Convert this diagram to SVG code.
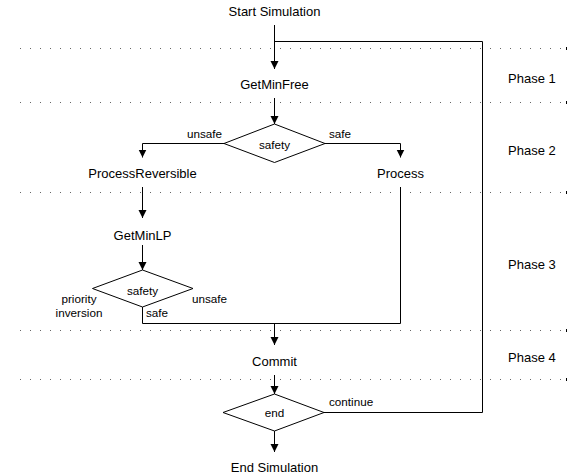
<svg xmlns="http://www.w3.org/2000/svg" width="570" height="476" viewBox="0 0 570 476">
<style>
text{font-family:"Liberation Sans",Arial,sans-serif;fill:#000}
.n{font-size:13px;text-anchor:middle}
.p{font-size:13px}
.l{font-size:11.7px}
.c{fill:none;stroke:#000;stroke-width:1}
.d{fill:#fff;stroke:#000;stroke-width:1}
.dot{stroke:#666;stroke-width:1;stroke-dasharray:1 9}
.tk{stroke:#000;stroke-width:1}
</style>
<defs>
<marker id="ah" markerWidth="8" markerHeight="10" refX="8" refY="5" orient="auto" markerUnits="userSpaceOnUse" viewBox="0 0 8 10">
<path d="M0,1 L8,5 L0,9 Z" fill="#000"/>
</marker>
</defs>
<g id="phases">
<line class="dot" x1="20" y1="48.5" x2="566" y2="48.5"/>
<line class="dot" x1="20" y1="102.5" x2="566" y2="102.5"/>
<line class="dot" x1="20" y1="192.5" x2="566" y2="192.5"/>
<line class="dot" x1="20" y1="330.5" x2="566" y2="330.5"/>
<line class="dot" x1="20" y1="379.5" x2="566" y2="379.5"/>
<line class="tk" x1="566.5" y1="47" x2="566.5" y2="50"/>
<line class="tk" x1="566.5" y1="101" x2="566.5" y2="104"/>
<line class="tk" x1="566.5" y1="191" x2="566.5" y2="194"/>
<line class="tk" x1="566.5" y1="329" x2="566.5" y2="332"/>
<line class="tk" x1="566.5" y1="378" x2="566.5" y2="381"/>
<text class="p" x="508" y="83">Phase 1</text>
<text class="p" x="508" y="155">Phase 2</text>
<text class="p" x="508" y="268.5">Phase 3</text>
<text class="p" x="508" y="361.5">Phase 4</text>
</g>
<g id="connectors">
<line class="c" x1="274.5" y1="25" x2="274.5" y2="69" marker-end="url(#ah)"/>
<polyline class="c" points="324,412.5 482.5,412.5 482.5,41.5 274.5,41.5"/>
<line class="c" x1="274.5" y1="98" x2="274.5" y2="124" marker-end="url(#ah)"/>
<polyline class="c" points="224,143.5 142.5,143.5 142.5,157.5" marker-end="url(#ah)"/>
<polyline class="c" points="325,143.5 400.5,143.5 400.5,157.5" marker-end="url(#ah)"/>
<line class="c" x1="142.5" y1="187" x2="142.5" y2="218" marker-end="url(#ah)"/>
<line class="c" x1="142.5" y1="245" x2="142.5" y2="270" marker-end="url(#ah)"/>
<polyline class="c" points="142.5,307 142.5,323.5 400.5,323.5 400.5,187"/>
<line class="c" x1="274.5" y1="323.5" x2="274.5" y2="345" marker-end="url(#ah)"/>
<line class="c" x1="274.5" y1="375" x2="274.5" y2="394" marker-end="url(#ah)"/>
<line class="c" x1="274.5" y1="431" x2="274.5" y2="452" marker-end="url(#ah)"/>
<text class="l" x="222" y="138" text-anchor="end">unsafe</text>
<text class="l" x="329" y="138">safe</text>
<text class="l" x="79" y="302.5" text-anchor="middle">priority</text>
<text class="l" x="79" y="317" text-anchor="middle">inversion</text>
<text class="l" x="192" y="302.5">unsafe</text>
<text class="l" x="146" y="317">safe</text>
<text class="l" x="329" y="406">continue</text>
</g>
<g id="start"><text class="n" x="274.5" y="15.5">Start Simulation</text></g>
<g id="getminfree"><text class="n" x="274.5" y="89">GetMinFree</text></g>
<g id="safety1"><polygon class="d" points="274.5,124 325,143.5 274.5,162.5 224,143.5"/><text class="l" x="274.5" y="149" text-anchor="middle">safety</text></g>
<g id="processreversible"><text class="n" x="142.5" y="178">ProcessReversible</text></g>
<g id="process"><text class="n" x="400.5" y="178">Process</text></g>
<g id="getminlp"><text class="n" x="142.5" y="239.5">GetMinLP</text></g>
<g id="safety2"><polygon class="d" points="142.5,270 193,288.5 142.5,307 92.5,288.5"/><text class="l" x="142.5" y="295" text-anchor="middle">safety</text></g>
<g id="commit"><text class="n" x="274.5" y="366">Commit</text></g>
<g id="end"><polygon class="d" points="274.5,394 324,412.5 274.5,431 223,412.5"/><text class="l" x="274.5" y="416.5" text-anchor="middle">end</text></g>
<g id="endsim"><text class="n" x="274.5" y="472">End Simulation</text></g>
</svg>
